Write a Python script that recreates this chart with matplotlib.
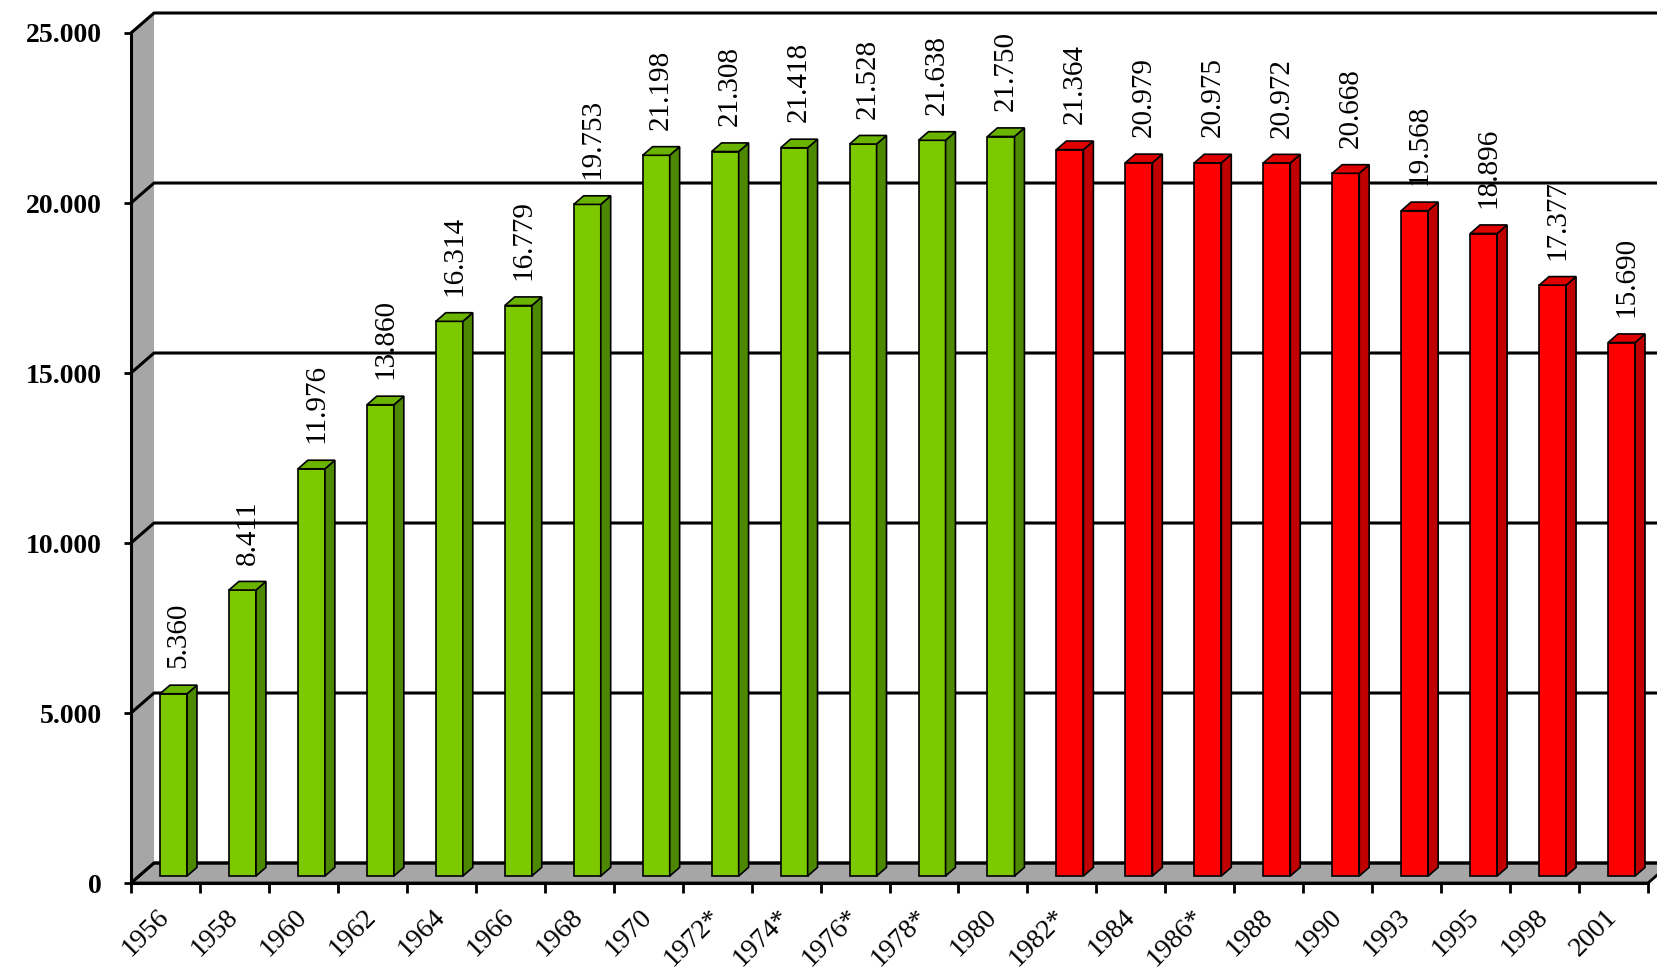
import numpy as np
import matplotlib.pyplot as plt
from matplotlib.patches import Polygon

anos = ['1956', '1958', '1960', '1962', '1964', '1966', '1968', '1970',
        '1972*', '1974*', '1976*', '1978*', '1980', '1982*', '1984',
        '1986*', '1988', '1990', '1993', '1995', '1998', '2001']

valoresVerde = [5360, 8411, 11976, 13860, 16314, 16779, 19753, 21198,
                21308, 21418, 21528, 21638, 21750]
valoresVermelho = [21364, 20979, 20975, 20972, 20668, 19568, 18896,
                   17377, 15690]

ticksY = [0, 5000, 10000, 15000, 20000, 25000]

# profundidade do efeito 3D (em categorias e em unidades de y)
DX = 0.334
DY = 588
F0, F1 = 0.35, 0.78   # frente e fundo da barra
HW = 0.196            # meia largura da barra

plt.rcParams['font.family'] = ['Liberation Serif', 'DejaVu Serif']


def p(x, y, d):
    return (x + d*DX, y + d*DY)


def face(ax, pts, cor, z, lw=1.2):
    ax.add_patch(Polygon(pts, closed=True, facecolor=cor, edgecolor='k',
                         linewidth=lw, zorder=z, clip_on=False))


def barra3d(ax, i, v, frente, lado, topo):
    x0, x1 = i - HW, i + HW
    face(ax, [p(x0, 0, F0), p(x1, 0, F0), p(x1, v, F0), p(x0, v, F0)], frente, 5)
    face(ax, [p(x1, 0, F0), p(x1, 0, F1), p(x1, v, F1), p(x1, v, F0)], lado, 5)
    face(ax, [p(x0, v, F0), p(x1, v, F0), p(x1, v, F1), p(x0, v, F1)], topo, 5)


def fmt(v):
    return '{:,}'.format(v).replace(',', '.')


def main():
    fig = plt.figure(figsize=(16.57, 9.71), dpi=100)
    ax = fig.add_axes([131/1657, 88/971, 1517/1657, 850/971])
    n = len(anos)
    ax.set_xlim(-0.5, n - 0.5)
    ax.set_ylim(0, 25000)

    cinza = '#A6A6A6'
    # parede esquerda
    face(ax, [p(-0.5, 0, 0), p(-0.5, 0, 1), p(-0.5, 25000, 1), p(-0.5, 25000, 0)],
         cinza, 1, lw=0)
    # piso
    face(ax, [p(-0.5, 0, 0), p(n - 0.5, 0, 0), p(n - 0.5, 0, 1), p(-0.5, 0, 1)],
         cinza, 1, lw=2)

    # linhas de grade
    for y in ticksY:
        xs = [-0.5, -0.5 + DX, n + 1]
        ys = [y, y + DY, y + DY]
        ax.plot(xs, ys, color='k', linewidth=2.2, zorder=2, clip_on=False,
                solid_capstyle='butt')

    valores = valoresVerde + valoresVermelho
    for i, v in enumerate(valores):
        if i < len(valoresVerde):
            barra3d(ax, i, v, '#7CC900', '#4C8800', '#6AB400')
        else:
            barra3d(ax, i, v, '#FF0000', '#C00000', '#E00000')
        fm = (F0 + F1) / 2
        ax.text(i + fm*DX, v + fm*DY + 620, fmt(v), rotation=90,
                ha='center', va='bottom', fontsize=21, zorder=6)

    for s in ['top', 'right']:
        ax.spines[s].set_visible(False)
    for s in ['left', 'bottom']:
        ax.spines[s].set_linewidth(2.2)
        ax.spines[s].set_zorder(7)

    ax.set_yticks(ticksY)
    ax.set_yticklabels([fmt(t) for t in ticksY], fontsize=20, fontweight='bold')
    ax.tick_params(axis='y', length=5, width=2, pad=16)

    ax.set_xticks(np.arange(n))
    ax.set_xticklabels(anos, fontsize=20, rotation=45, ha='right',
                       va='center', rotation_mode='anchor')
    ax.set_xticks(np.arange(-0.5, n, 1), minor=True)
    ax.tick_params(axis='x', which='major', length=0, pad=22)
    ax.tick_params(axis='x', which='minor', length=7, width=2)

    ax.set_facecolor('none')
    fig.savefig('out.png', dpi=100)


main()
